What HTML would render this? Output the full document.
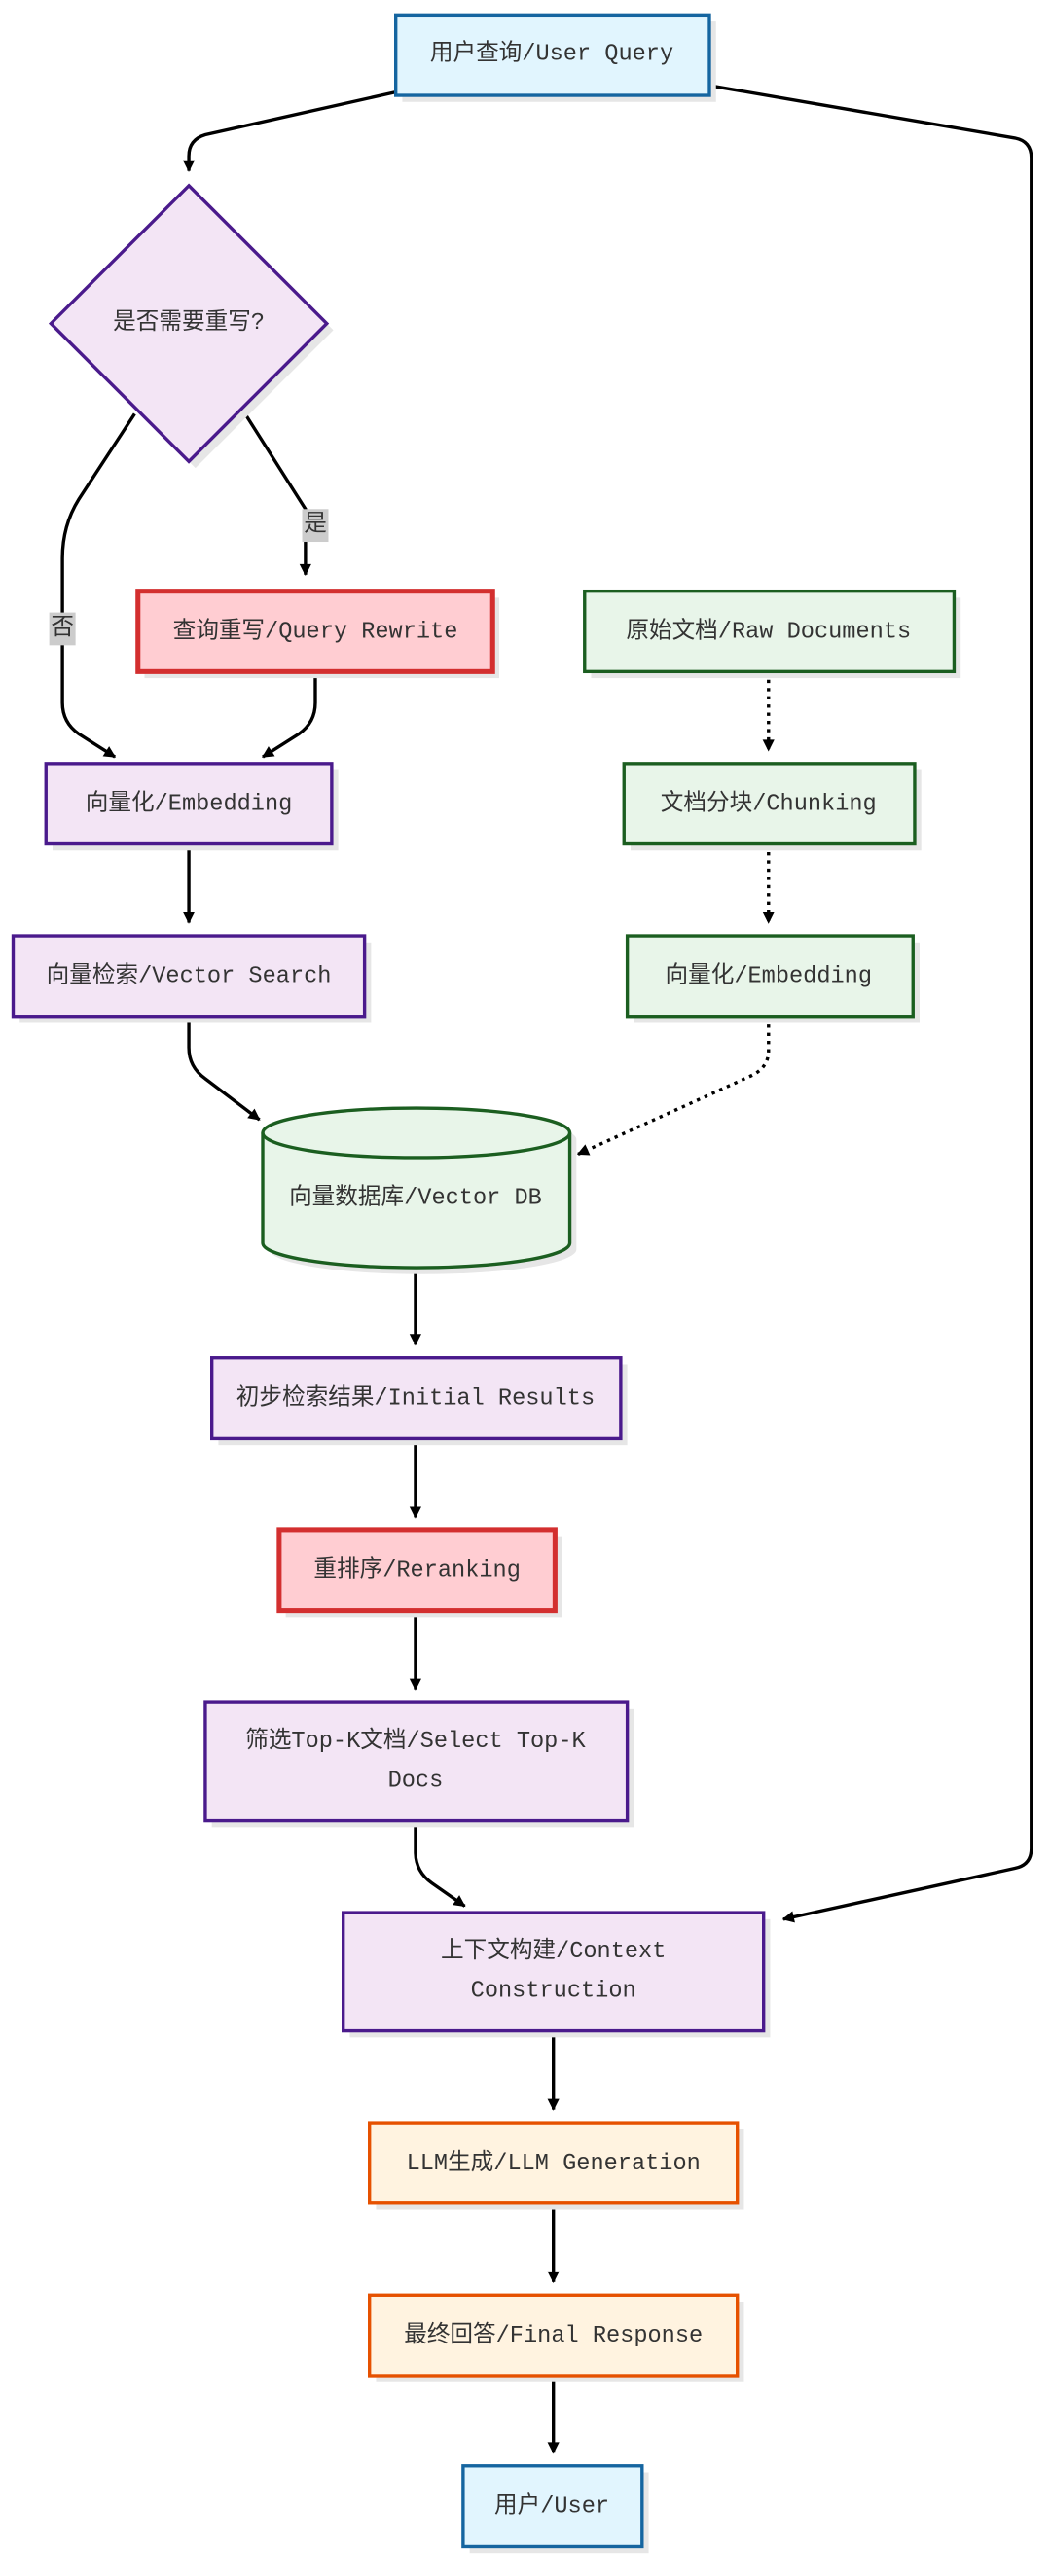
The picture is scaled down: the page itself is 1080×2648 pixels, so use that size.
<!DOCTYPE html>
<html><head><meta charset="utf-8"><style>
html,body{margin:0;padding:0;background:#fff;}
svg{display:block;}
text{font-family:"Liberation Mono","Noto Sans CJK SC",monospace;font-size:14px;fill:#333;text-anchor:middle;dominant-baseline:central;}
.sh{fill:#e6e6e6;}
.e{fill:none;stroke:#000;stroke-width:2;}
.d{fill:none;stroke:#000;stroke-width:2;stroke-dasharray:2,3;}
</style></head><body>
<svg width="1080" height="2648" viewBox="0 0 640 1569" xmlns="http://www.w3.org/2000/svg">
<defs>
<marker id="a" viewBox="0 0 10 10" refX="9" refY="5" markerWidth="6" markerHeight="6" orient="auto-start-reverse" markerUnits="userSpaceOnUse" style="overflow:visible"><path d="M0,0 L10,5 L0,10 z" fill="#000" transform="scale(1.2) translate(-1.5,-0.8)"/></marker>
</defs>
<!-- edges -->
<path class="e" d="M241,56 L125,82 Q115,85 115,95 L115,104" marker-end="url(#a)"/>
<path class="e" d="M432,52 L618,84 Q628,86 628,96 L628,1126 Q628,1136 618,1138 L477,1169" marker-end="url(#a)"/>
<path class="e" d="M148,250 L186,310 L186,350" marker-end="url(#a)"/>
<path class="e" d="M82,252 L48,304 Q38,320 38,340 L38,428 Q38,440 48,447 L70,461" marker-end="url(#a)"/>
<path class="e" d="M192,409 L192,428 Q192,440 182,447 L160,461" marker-end="url(#a)"/>
<path class="e" d="M115,514 L115,562" marker-end="url(#a)"/>
<path class="e" d="M115,619 L115,638 Q115,650 125,657 L158,682" marker-end="url(#a)"/>
<path class="d" d="M468,409 L468,457" marker-end="url(#a)"/>
<path class="d" d="M468,514 L468,562" marker-end="url(#a)"/>
<path class="d" d="M468,619 L468,640 Q468,650 458,655 L352,703" marker-end="url(#a)"/>
<path class="e" d="M253,772 L253,819" marker-end="url(#a)"/>
<path class="e" d="M253,876 L253,924" marker-end="url(#a)"/>
<path class="e" d="M253,981 L253,1029" marker-end="url(#a)"/>
<path class="e" d="M253,1109 L253,1128 Q253,1140 263,1147 L283,1161" marker-end="url(#a)"/>
<path class="e" d="M337,1237 L337,1285" marker-end="url(#a)"/>
<path class="e" d="M337,1342 L337,1390" marker-end="url(#a)"/>
<path class="e" d="M337,1447 L337,1494" marker-end="url(#a)"/>
<rect x="184" y="310" width="16" height="20" fill="#ccc"/><text x="192" y="320">是</text>
<rect x="30" y="373" width="16" height="20" fill="#ccc"/><text x="38" y="383">否</text>
<!-- nodes -->
<g>
<rect class="sh" x="245" y="13" width="191" height="49"/>
<rect x="241" y="9" width="191" height="49" fill="#e1f5fe" stroke="#1565a0" stroke-width="2"/>
<text x="336" y="33">用户查询/User Query</text>

<polygon class="sh" points="119,117 203,201 119,285 35,201"/>
<polygon points="115,113 199,197 115,281 31,197" fill="#f3e5f5" stroke="#4a1a8c" stroke-width="2"/>
<text x="115" y="197">是否需要重写?</text>

<rect class="sh" x="88" y="364" width="216" height="49"/>
<rect x="84" y="360" width="216" height="49" fill="#ffcdd2" stroke="#d32f2f" stroke-width="3"/>
<text x="192" y="385">查询重写/Query Rewrite</text>

<rect class="sh" x="360" y="364" width="225" height="49"/>
<rect x="356" y="360" width="225" height="49" fill="#e8f5e9" stroke="#1b5e20" stroke-width="2"/>
<text x="468" y="385">原始文档/Raw Documents</text>

<rect class="sh" x="32" y="469" width="174" height="49"/>
<rect x="28" y="465" width="174" height="49" fill="#f3e5f5" stroke="#4a1a8c" stroke-width="2"/>
<text x="115" y="490">向量化/Embedding</text>

<rect class="sh" x="384" y="469" width="177" height="49"/>
<rect x="380" y="465" width="177" height="49" fill="#e8f5e9" stroke="#1b5e20" stroke-width="2"/>
<text x="468" y="490">文档分块/Chunking</text>

<rect class="sh" x="12" y="574" width="214" height="49"/>
<rect x="8" y="570" width="214" height="49" fill="#f3e5f5" stroke="#4a1a8c" stroke-width="2"/>
<text x="115" y="595">向量检索/Vector Search</text>

<rect class="sh" x="386" y="574" width="174" height="49"/>
<rect x="382" y="570" width="174" height="49" fill="#e8f5e9" stroke="#1b5e20" stroke-width="2"/>
<text x="468" y="595">向量化/Embedding</text>

<path class="sh" d="M164,694 A93,15 0 0 1 351,694 L351,761 A93,15 0 0 1 164,761 Z"/>
<path d="M160,690 A93,15 0 0 1 347,690 L347,757 A93,15 0 0 1 160,757 Z" fill="#e8f5e9" stroke="#1b5e20" stroke-width="2"/>
<path d="M160,690 A93,15 0 0 0 347,690" fill="none" stroke="#1b5e20" stroke-width="2"/>
<text x="253" y="730">向量数据库/Vector DB</text>

<rect class="sh" x="133" y="831" width="249" height="49"/>
<rect x="129" y="827" width="249" height="49" fill="#f3e5f5" stroke="#4a1a8c" stroke-width="2"/>
<text x="253" y="852">初步检索结果/Initial Results</text>

<rect class="sh" x="174" y="936" width="168" height="49"/>
<rect x="170" y="932" width="168" height="49" fill="#ffcdd2" stroke="#d32f2f" stroke-width="3"/>
<text x="254" y="957">重排序/Reranking</text>

<rect class="sh" x="129" y="1041" width="257" height="72"/>
<rect x="125" y="1037" width="257" height="72" fill="#f3e5f5" stroke="#4a1a8c" stroke-width="2"/>
<text x="253" y="1061">筛选Top-K文档/Select Top-K</text>
<text x="253" y="1085">Docs</text>

<rect class="sh" x="213" y="1169" width="256" height="72"/>
<rect x="209" y="1165" width="256" height="72" fill="#f3e5f5" stroke="#4a1a8c" stroke-width="2"/>
<text x="337" y="1189">上下文构建/Context</text>
<text x="337" y="1213">Construction</text>

<rect class="sh" x="229" y="1297" width="224" height="49"/>
<rect x="225" y="1293" width="224" height="49" fill="#fff3e0" stroke="#e65100" stroke-width="2"/>
<text x="337" y="1318">LLM生成/LLM Generation</text>

<rect class="sh" x="229" y="1402" width="224" height="49"/>
<rect x="225" y="1398" width="224" height="49" fill="#fff3e0" stroke="#e65100" stroke-width="2"/>
<text x="337" y="1423">最终回答/Final Response</text>

<rect class="sh" x="286" y="1506" width="109" height="49"/>
<rect x="282" y="1502" width="109" height="49" fill="#e1f5fe" stroke="#1565a0" stroke-width="2"/>
<text x="336" y="1527">用户/User</text>
</g>
</svg>
</body></html>
